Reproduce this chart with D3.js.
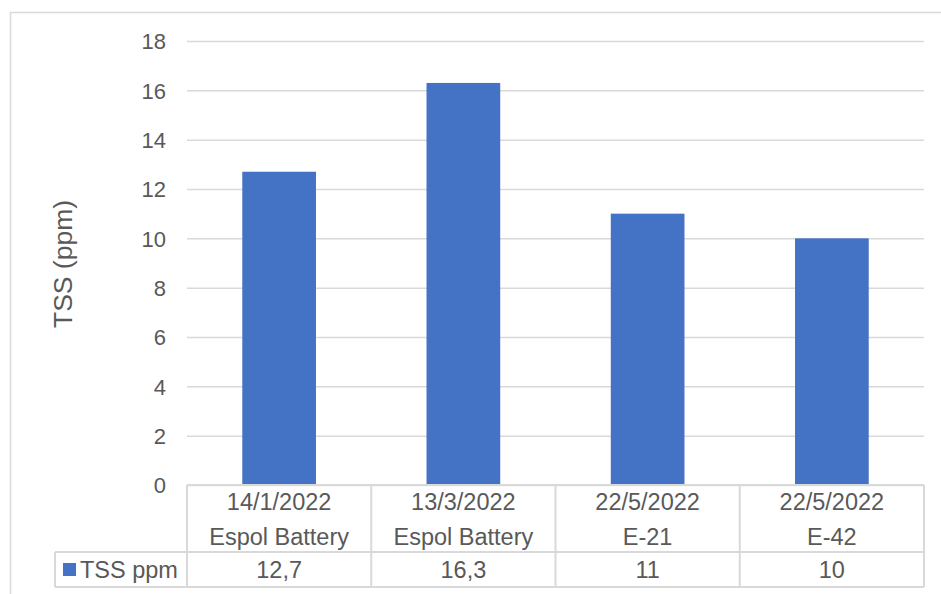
<!DOCTYPE html>
<html>
<head>
<meta charset="utf-8">
<script src="https://cdn.jsdelivr.net/npm/d3@7"></script>
<style>
  html, body { margin: 0; padding: 0; background: #fff; }
  svg { display: block; }
  text { font-family: "Liberation Sans", Arial, sans-serif; fill: #595959; }
</style>
</head>
<body>
<script>
// Sampling dates and locations for the TSS measurements
const dates = ["14/1/2022", "13/3/2022", "22/5/2022", "22/5/2022"];
const sites = ["Espol Battery", "Espol Battery", "E-21", "E-42"];
const tssValues = [12.7, 16.3, 11, 10];
const valueLabels = ["12,7", "16,3", "11", "10"];
const yTicks = [0, 2, 4, 6, 8, 10, 12, 14, 16, 18];
const seriesName = "TSS ppm";
const yTitle = "TSS (ppm)";

const W = 941, H = 594;
const plot = { left: 187, right: 924, top: 41, bottom: 485 };
const rowCatBottom = 552, rowValBottom = 587, legendLeft = 55;
const barColor = "#4472C4", gridColor = "#D9D9D9";
const tableFont = 23.5;

const svg = d3.select("body").append("svg").attr("width", W).attr("height", H);

// chart area frame
svg.append("rect").attr("x", 10.5).attr("y", 12.5).attr("width", 960).attr("height", 600)
  .attr("fill", "none").attr("stroke", gridColor).attr("stroke-width", 1.5);

const idx = d3.range(tssValues.length);
const x = d3.scaleBand().domain(idx).range([plot.left, plot.right]).paddingInner(0).paddingOuter(0);
const y = d3.scaleLinear().domain([0, 18]).range([plot.bottom, plot.top]);

// gridlines and tick labels
const yAxis = d3.axisLeft(y).tickValues(yTicks).tickSize(-(plot.right - plot.left)).tickPadding(21);
const gy = svg.append("g").attr("transform", `translate(${plot.left},0)`).call(yAxis);
gy.select(".domain").remove();
gy.selectAll(".tick line").attr("stroke", gridColor).attr("stroke-width", 1.5);
gy.selectAll(".tick text").attr("font-size", 22).attr("fill", "#595959").attr("dy", "0.36em")
  .style("font-family", '"Liberation Sans", Arial, sans-serif');

// bars
const barW = x.bandwidth() * 0.4;
svg.append("g").selectAll("rect").data(idx).join("rect")
  .attr("x", i => x(i) + (x.bandwidth() - barW) / 2)
  .attr("y", i => y(tssValues[i]))
  .attr("width", barW)
  .attr("height", i => y(0) - y(tssValues[i]))
  .attr("fill", barColor);

// data table below the plot
const tbl = svg.append("g").attr("stroke", gridColor).attr("stroke-width", 2).attr("fill", "none");
tbl.append("line").attr("x1", plot.left).attr("x2", plot.right).attr("y1", plot.bottom).attr("y2", plot.bottom);
tbl.append("line").attr("x1", legendLeft).attr("x2", plot.right).attr("y1", rowCatBottom).attr("y2", rowCatBottom);
tbl.append("line").attr("x1", legendLeft).attr("x2", plot.right).attr("y1", rowValBottom).attr("y2", rowValBottom);
tbl.append("line").attr("x1", legendLeft).attr("x2", legendLeft).attr("y1", rowCatBottom).attr("y2", rowValBottom);
const colEdges = idx.map(i => x(i)).concat([plot.right]);
tbl.selectAll(".vcol").data(colEdges).join("line")
  .attr("x1", d => d).attr("x2", d => d).attr("y1", plot.bottom).attr("y2", rowValBottom);

const cells = svg.append("g").attr("font-size", tableFont).attr("text-anchor", "middle");
idx.forEach(i => {
  const cx = x(i) + x.bandwidth() / 2;
  cells.append("text").attr("x", cx).attr("y", 510).text(dates[i]);
  cells.append("text").attr("x", cx).attr("y", 545).text(sites[i]);
  cells.append("text").attr("x", cx).attr("y", 578).text(valueLabels[i]);
});

// legend key inside the table
svg.append("rect").attr("x", 63).attr("y", 563).attr("width", 13).attr("height", 13).attr("fill", barColor);
svg.append("text").attr("x", 80).attr("y", 578).attr("font-size", tableFont).text(seriesName);

// y axis title
svg.append("text").attr("transform", `translate(72,264) rotate(-90)`)
  .attr("text-anchor", "middle").attr("font-size", 26.5).text(yTitle);
</script>
</body>
</html>
